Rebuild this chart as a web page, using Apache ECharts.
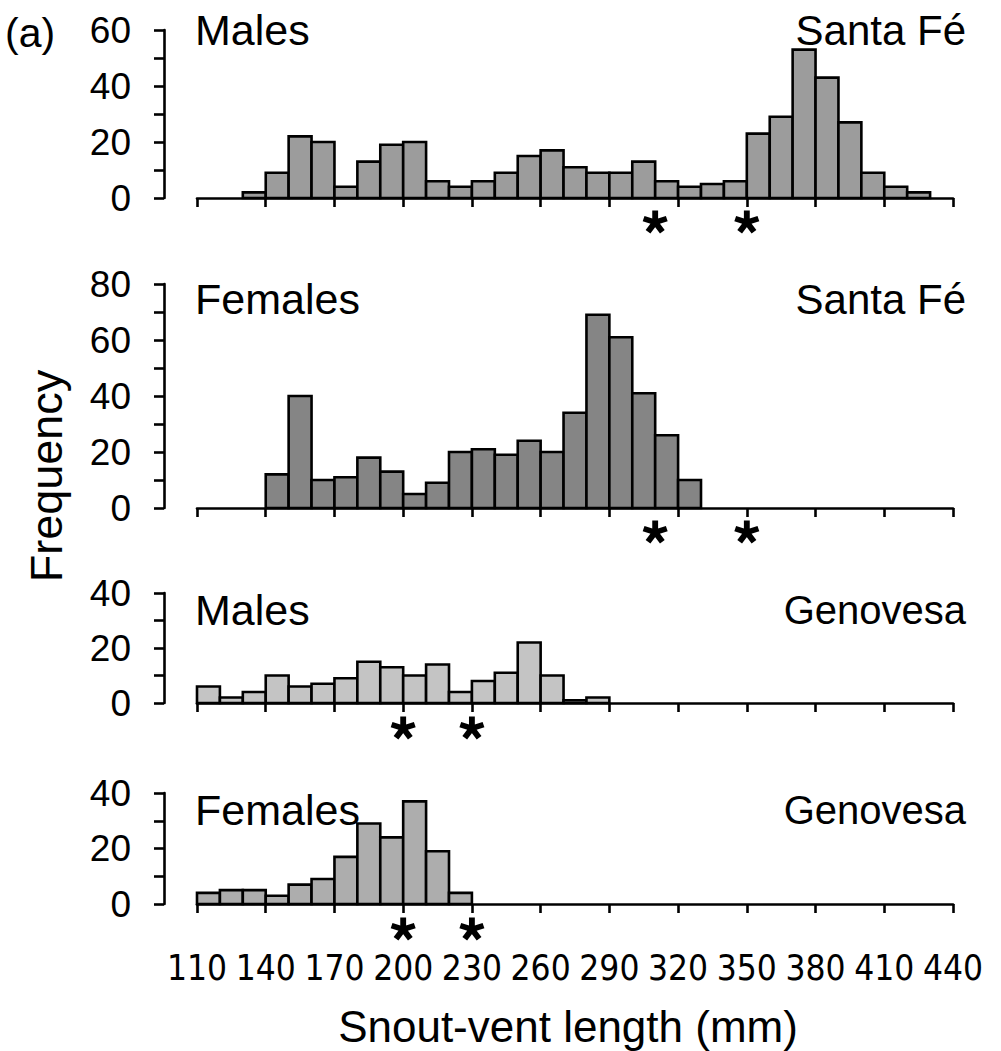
<!DOCTYPE html>
<html>
<head>
<meta charset="utf-8">
<script src="https://cdn.jsdelivr.net/npm/echarts@6/dist/echarts.min.js"></script>
<style>
html,body{margin:0;padding:0;background:#fff;}
#chart{width:1001px;height:1051px;}
</style>
</head>
<body>
<div id="chart"></div>
<script>
// ---- data ----
const binStarts = [110,120,130,140,150,160,170,180,190,200,210,220,230,240,250,260,270,280,290,300,310,320,330,340,350,360,370,380,390,400,410,420,430];
const binWidth = 10;
const xTickLabels = [110,140,170,200,230,260,290,320,350,380,410,440];

const malesSantaFe   = [0,0,2,9,22,20,4,13,19,20,6,4,6,9,15,17,11,9,9,13,6,4,5,6,23,29,53,43,27,9,4,2,0];
const femalesSantaFe = [0,0,0,12,40,10,11,18,13,5,9,20,21,19,24,20,34,69,61,41,26,10,0,0,0,0,0,0,0,0,0,0,0];
const malesGenovesa  = [6,2,4,10,6,7,9,15,13,10,14,4,8,11,22,10,1,2,0,0,0,0,0,0,0,0,0,0,0,0,0,0,0];
const femalesGenovesa= [4,5,5,3,7,9,17,29,24,37,19,4,0,0,0,0,0,0,0,0,0,0,0,0,0,0,0,0,0,0,0,0,0];

const starsSantaFe  = [310, 350];
const starsGenovesa = [200, 230];

const panelSex    = ['Males','Females','Males','Females'];
const panelIsland = ['Santa Fé','Santa Fé','Genovesa','Genovesa'];
const yMax = [60, 80, 40, 40];
const xTitle = 'Snout-vent length (mm)';
const yTitle = 'Frequency';
const panelLetter = '(a)';

// ---- layout / style ----
const panels = [
  {values: malesSantaFe,   stars: starsSantaFe,  top: 30,  height: 168, fill: '#9c9c9c', starOff: 24},
  {values: femalesSantaFe, stars: starsSantaFe,  top: 284, height: 224, fill: '#858585', starOff: 24},
  {values: malesGenovesa,  stars: starsGenovesa, top: 593, height: 110, fill: '#c4c4c4', starOff: 25},
  {values: femalesGenovesa,stars: starsGenovesa, top: 793, height: 111, fill: '#adadad', starOff: 25}
];
const FONT = "'Liberation Sans', Arial, Helvetica, sans-serif";
const NARROW = "'Liberation Sans Narrow', 'DejaVu Sans Condensed', 'Liberation Sans', sans-serif";
const LW = 2.6;

// five-armed bold asterisk marker shape (style only)
function asteriskPath() {
  const L = 50, w = 24, back = 8;
  let d = '';
  for (let k = 0; k < 5; k++) {
    const a = (-90 + 72 * k) * Math.PI / 180;
    const dx = Math.cos(a), dy = Math.sin(a);
    const px = -dy, py = dx;
    const pts = [
      [-back * dx + px * w / 2, -back * dy + py * w / 2],
      [L * dx + px * w / 2, L * dy + py * w / 2],
      [L * dx - px * w / 2, L * dy - py * w / 2],
      [-back * dx - px * w / 2, -back * dy - py * w / 2]
    ].map(q => [(q[0] + 70).toFixed(2), (q[1] + 70).toFixed(2)]);
    d += 'M' + pts[0].join(' ') + 'L' + pts[1].join(' ') + 'L' + pts[2].join(' ') + 'L' + pts[3].join(' ') + 'Z';
  }
  return 'path://' + d;
}
const STAR = asteriskPath();

const chart = echarts.init(document.getElementById('chart'), null, {renderer: 'svg'});

const grid = [], xAxis = [], yAxis = [], series = [];
panels.forEach((p, i) => {
  const last = i === panels.length - 1;
  grid.push({left: 197, right: 48, top: p.top, height: p.height, containLabel: false});
  xAxis.push({
    type: 'value', gridIndex: i, min: 110, max: 440,
    axisLine: {show: true, onZero: false, lineStyle: {color: '#000', width: LW}},
    axisTick: {show: true, customValues: xTickLabels, length: 9, inside: false, lineStyle: {color: '#000', width: LW}},
    axisLabel: {show: last, customValues: xTickLabels, margin: 46, color: '#000', fontSize: 35, fontFamily: NARROW},
    splitLine: {show: false}
  });
  yAxis.push({
    type: 'value', gridIndex: i, min: 0, max: yMax[i], interval: 10, offset: 33,
    axisLine: {show: true, lineStyle: {color: '#000', width: LW}},
    axisTick: {show: true, length: 10, lineStyle: {color: '#000', width: LW}},
    axisLabel: {color: '#000', fontSize: 37, fontFamily: FONT, margin: 33,
      formatter: v => (v % 20 === 0 ? String(v) : '')},
    splitLine: {show: false}
  });
  const data = binStarts.map((b, k) => [b, b + binWidth, p.values[k]]).filter(d => d[2] > 0);
  series.push({
    type: 'custom', xAxisIndex: i, yAxisIndex: i, clip: false,
    data: data,
    encode: {x: [0, 1], y: 2},
    renderItem: (params, api) => {
      const p0 = api.coord([api.value(0), api.value(2)]);
      const p1 = api.coord([api.value(1), 0]);
      return {
        type: 'rect',
        shape: {x: p0[0], y: p0[1], width: p1[0] - p0[0], height: p1[1] - p0[1]},
        style: {fill: p.fill, stroke: '#000', lineWidth: LW}
      };
    },
    z: 1
  });
  series.push({
    type: 'scatter', xAxisIndex: i, yAxisIndex: i, clip: false,
    symbol: STAR, symbolSize: [25, 24], symbolKeepAspect: true,
    symbolOffset: [0, p.starOff],
    itemStyle: {color: '#000', opacity: 1},
    silent: true,
    data: p.stars.map(s => [s, 0]),
    z: 5
  });
});

const graphic = [
  {type: 'text', x: 5, y: 33, style: {text: panelLetter, font: '41px ' + FONT, fill: '#000', align: 'left', verticalAlign: 'middle'}},
  {type: 'text', x: 568, y: 1026, style: {text: xTitle, font: '44px ' + FONT, fill: '#000', align: 'center', verticalAlign: 'middle'}},
  {type: 'text', x: 46, y: 476, rotation: Math.PI / 2, style: {text: yTitle, font: '45px ' + FONT, fill: '#000', align: 'center', verticalAlign: 'middle'}}
];
const labelY = [30, 299, 610, 810];
panels.forEach((p, i) => {
  graphic.push({type: 'text', x: 195, y: labelY[i], style: {text: panelSex[i], font: '43px ' + FONT, fill: '#000', align: 'left', verticalAlign: 'middle'}});
  graphic.push({type: 'text', x: 966, y: labelY[i], style: {text: panelIsland[i], font: (i < 2 ? '42px ' : '40px ') + FONT, fill: '#000', align: 'right', verticalAlign: 'middle'}});
});

chart.setOption({
  animation: false,
  backgroundColor: '#fff',
  grid, xAxis, yAxis, series, graphic
});
</script>
</body>
</html>
